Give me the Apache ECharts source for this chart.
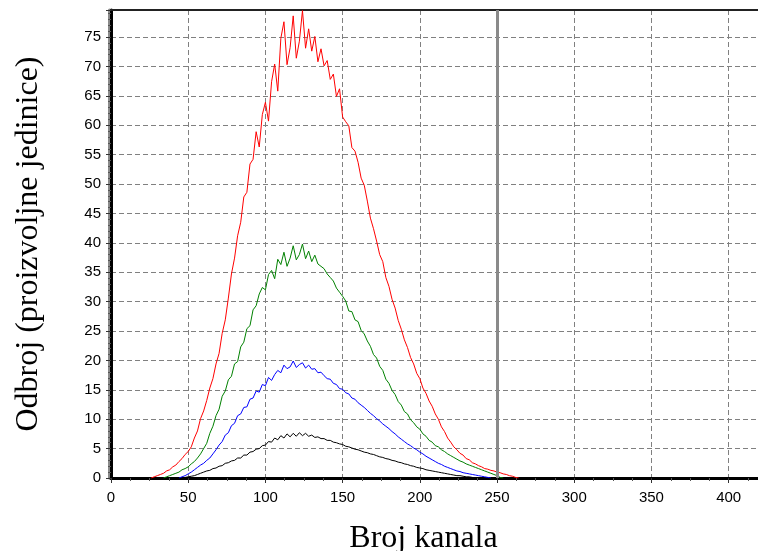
<!DOCTYPE html>
<html>
<head>
<meta charset="utf-8">
<script src="https://cdn.jsdelivr.net/npm/echarts@6/dist/echarts.min.js"></script>
<style>
html,body{margin:0;padding:0;background:#fff;}
#chart{width:758px;height:551px;}
</style>
</head>
<body>
<div id="chart"></div>
<script>
// Channel numbers (x categories)
var channels = [24,26,28,30,32,34,36,38,40,42,44,46,48,50,52,54,56,58,60,62,64,66,68,70,72,74,76,78,80,82,84,86,88,90,92,94,96,98,100,102,104,106,108,110,112,114,116,118,120,122,124,126,128,130,132,134,136,138,140,142,144,146,148,150,152,154,156,158,160,162,164,166,168,170,172,174,176,178,180,182,184,186,188,190,192,194,196,198,200,202,204,206,208,210,212,214,216,218,220,222,224,226,228,230,232,234,236,238,240,242,244,246,248,250,252,254,256,258,260,262,264];

var redCounts = [0,0,0.2,0.4,0.6,0.8,1.2,1.4,1.9,2.2,2.8,3.3,4.0,4.5,5.3,6.8,8.0,10.1,11.4,13.2,15.3,16.9,19.4,21.2,24.6,26.9,30.6,34.7,37.4,41.2,43.5,47.8,48.6,53.4,54.2,58.9,56.3,61.8,63.9,60.7,67.4,70.4,65.8,74.8,77.6,70.3,73.2,78.6,71.4,74.3,79.5,73.1,76.4,72.6,75.1,70.8,73.0,70.1,71.0,67.8,68.7,64.9,66.2,61.4,60.6,59.9,56.2,55.6,53.7,51.0,49.8,47.1,44.2,42.4,40.3,38.0,36.8,34.1,32.6,30.4,28.9,26.8,25.3,23.5,22.2,20.5,19.4,17.8,16.9,15.3,14.4,13.1,12.2,10.9,10.0,8.7,7.9,6.8,6.1,5.3,4.8,4.2,3.9,3.3,3.1,2.6,2.4,2.1,1.9,1.6,1.5,1.3,1.2,1.0,0.9,0.7,0.6,0.4,0.3,0.1,0];

var greenCounts = [0,0,0,0,0,0,0.2,0.4,0.6,0.8,1.0,1.4,1.6,1.9,2.4,2.8,3.4,4.1,5.0,5.9,7.6,8.8,10.6,11.7,13.9,14.8,16.7,17.3,19.4,19.8,22.3,23.1,25.4,25.9,28.6,29.3,31.3,32.4,32.0,34.6,35.3,33.9,37.2,36.3,38.4,36.0,37.4,39.5,37.1,38.0,39.8,37.3,38.6,36.8,37.9,36.4,36.0,35.6,34.7,34.1,33.5,32.3,31.6,30.9,30.1,28.4,28.3,26.9,26.6,25.1,24.5,23.3,22.4,21.0,20.4,19.0,18.3,16.8,16.1,14.9,14.2,13.0,12.4,11.3,10.9,9.9,9.4,8.7,8.3,7.5,7.1,6.4,6.1,5.5,5.3,4.8,4.5,4.1,3.8,3.5,3.2,2.9,2.7,2.4,2.2,2.0,1.8,1.6,1.4,1.2,1.0,0.8,0.6,0.4,0.1,0,0,0,0,0,0];

var blueCounts = [0,0,0,0,0,0,0,0,0,0,0,0.2,0.4,0.7,1.0,1.4,1.8,2.2,2.5,3.0,3.4,4.1,4.8,5.6,6.2,7.3,7.7,8.9,9.3,10.6,10.9,12.0,12.1,13.4,13.6,14.8,14.6,15.9,15.7,17.1,16.6,17.6,18.3,17.9,19.2,18.6,18.9,19.9,18.8,19.3,19.6,18.7,19.2,18.5,18.6,17.9,18.0,17.4,16.9,16.8,16.1,15.9,15.2,15.1,14.5,14.3,13.6,13.4,12.8,12.4,12.0,11.5,11.0,10.6,10.1,9.7,9.2,8.8,8.4,7.9,7.5,7.0,6.6,6.2,5.8,5.5,5.1,4.8,4.4,4.1,3.7,3.4,3.1,2.8,2.5,2.3,2.0,1.8,1.6,1.4,1.2,1.1,0.9,0.8,0.7,0.6,0.5,0.4,0.3,0.2,0.1,0,0,0,0,0,0,0,0,0,0];

var blackCounts = [0,0,0,0,0,0,0,0,0,0,0,0,0.1,0.2,0.3,0.4,0.6,0.8,1.0,1.2,1.3,1.6,1.7,2.0,2.1,2.5,2.6,2.9,3.0,3.4,3.4,3.9,3.9,4.4,4.5,4.9,5.0,5.5,5.6,6.2,6.1,6.8,6.5,7.2,6.8,7.5,7.0,7.6,7.1,7.7,7.2,7.6,7.1,7.3,6.9,7.0,6.7,6.7,6.4,6.4,6.1,6.0,5.8,5.7,5.4,5.3,5.1,4.9,4.8,4.6,4.4,4.3,4.1,4.0,3.8,3.6,3.5,3.3,3.2,3.0,2.9,2.7,2.6,2.4,2.3,2.1,2.0,1.8,1.7,1.6,1.4,1.3,1.2,1.1,1.0,0.9,0.8,0.7,0.6,0.5,0.4,0.4,0.3,0.2,0.2,0.1,0,0,0,0,0,0,0,0,0,0,0,0,0,0,0];

var xTickLabels = ['0','50','100','150','200','250','300','350','400'];
var yTickLabels = ['0','5','10','15','20','25','30','35','40','45','50','55','60','65','70','75'];
var markerChannel = 250;
var xTitle = 'Broj kanala';
var yTitle = 'Odbroj (proizvoljne jedinice)';

// keep only the non-zero stretch (plus one zero at each end)
function pairs(vals) {
  var first = 0, last = vals.length - 1;
  while (first < vals.length - 1 && vals[first + 1] === 0) first++;
  while (last > 0 && vals[last - 1] === 0) last--;
  var out = [];
  for (var i = first; i <= last; i++) out.push([channels[i], vals[i]]);
  return out;
}

var labelFont = {color: '#000', fontFamily: 'Liberation Sans, Arial, sans-serif', fontSize: 15};
var titleFont = {color: '#000', fontFamily: 'Liberation Serif, Times New Roman, serif', fontSize: 32};

function mkSeries(name, vals, color, extra) {
  var s = {
    name: name, type: 'line', data: pairs(vals), showSymbol: false, symbol: 'none',
    lineStyle: {color: color, width: 1}, itemStyle: {color: color},
    animation: false, silent: true, z: 3
  };
  if (extra) for (var k in extra) s[k] = extra[k];
  return s;
}

var chart = echarts.init(document.getElementById('chart'), null, {renderer: 'canvas'});
chart.setOption({
  backgroundColor: '#fff',
  animation: false,
  grid: {left: 111, right: 0, top: 10, bottom: 73, containLabel: false, outerBoundsMode: 'none'},
  xAxis: [{
    type: 'value', min: 0, max: 419, interval: 50, position: 'bottom',
    name: xTitle, nameLocation: 'middle', nameGap: 45,
    nameTextStyle: Object.assign({padding: [0, 22, 0, 0]}, titleFont),
    axisLine: {show: true, onZero: false, lineStyle: {color: '#000', width: 3}},
    axisTick: {show: true, length: 5, lineStyle: {color: '#333', width: 1}},
    minorTick: {show: true, splitNumber: 4, length: 3, lineStyle: {color: '#555', width: 1}},
    axisLabel: Object.assign({margin: 12, showMaxLabel: false, formatter: function (v) {
      var s = String(v); return xTickLabels.indexOf(s) >= 0 ? s : '';
    }}, labelFont),
    splitLine: {show: true, lineStyle: {color: '#808080', width: 1, type: [5, 3]}}
  }, {
    type: 'value', min: 0, max: 419, position: 'top',
    axisLine: {show: true, onZero: false, lineStyle: {color: '#222', width: 2}},
    axisTick: {show: false}, axisLabel: {show: false}, splitLine: {show: false}
  }],
  yAxis: [{
    type: 'value', min: 0, max: 79.6, interval: 5,
    name: yTitle, nameLocation: 'middle', nameGap: 66, nameTextStyle: titleFont,
    axisLine: {show: true, onZero: false, lineStyle: {color: '#000', width: 3, shadowColor: '#8a8a8a', shadowOffsetX: -2, shadowBlur: 0}},
    axisTick: {show: true, length: 5, lineStyle: {color: '#333', width: 1}},
    minorTick: {show: true, splitNumber: 5, length: 3, lineStyle: {color: '#555', width: 1}},
    axisLabel: Object.assign({margin: 10, showMaxLabel: false, formatter: function (v) {
      var s = String(v); return yTickLabels.indexOf(s) >= 0 ? s : '';
    }}, labelFont),
    splitLine: {show: true, lineStyle: {color: '#808080', width: 1, type: [5, 3]}}
  }],
  series: [
    mkSeries('black', blackCounts, '#000000'),
    mkSeries('blue', blueCounts, '#0000ff'),
    mkSeries('green', greenCounts, '#008000'),
    mkSeries('red', redCounts, '#ff0000', {
      markLine: {
        silent: true, symbol: ['none', 'none'], animation: false,
        label: {show: false},
        lineStyle: {color: '#8a8a8a', width: 3, type: 'solid'},
        data: [{xAxis: markerChannel}]
      }
    })
  ]
});
</script>
</body>
</html>
